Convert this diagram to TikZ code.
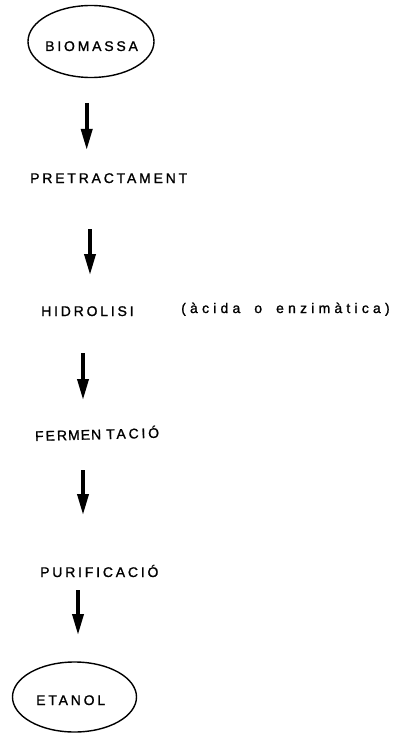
\documentclass[tikz,border=0pt]{standalone}
\usepackage{fontspec}
\setmainfont{Liberation Sans}
\newfontfamily\spaced[LetterSpace=20,FakeBold=1.2]{Liberation Sans}
\newfontfamily\spacedlow[LetterSpace=30,FakeBold=1.2]{Liberation Sans}
\usetikzlibrary{arrows.meta,shapes.geometric}
\begin{document}
\begin{tikzpicture}[x=1pt,y=-1pt,
  lbl/.style={inner sep=0pt,anchor=base west,font=\fontsize{14}{16}\spaced},
  sublbl/.style={inner sep=0pt,anchor=base west,font=\fontsize{14}{16}\spacedlow},
  endpt/.style={draw,ellipse,line width=1.4pt,inner sep=0pt},
  flow/.style={line width=3.6pt,-{Triangle[length=21pt,width=11pt]}}]
\useasboundingbox (0,0) rectangle (392,733);
\node[endpt,minimum width=126pt,minimum height=72pt] (bio) at (91,41.5) {};
\node[lbl] (biot) at (45,51) {BIOMASSA};
\node[lbl] (pre) at (30,183) {PRETRACTAMENT};
\node[lbl] (hid) at (41,316) {HIDROLISI};
\node[sublbl] (acid) at (181,313) {(àcida\hspace{14pt}o\hspace{14pt}enzimàtica)};
\node[lbl,rotate=1.5,anchor=base west] (fer) at (35,441) {F\hspace{2pt}E\hspace{2pt}R\hspace{1pt}M\hspace{1pt}E\hspace{1pt}N\hspace{5pt}TACIÓ};
\node[lbl] (pur) at (40,577) {PURIFICACIÓ};
\node[endpt,minimum width=124pt,minimum height=70pt] (eta) at (74.5,697) {};
\node[lbl] (etat) at (36,705) {ETANOL};
\coordinate (a1s) at (86.7,103); \coordinate (a1e) at (86.7,150);
\coordinate (a2s) at (90,229);   \coordinate (a2e) at (90,275);
\coordinate (a3s) at (83,353);   \coordinate (a3e) at (83,400);
\coordinate (a4s) at (83,470);   \coordinate (a4e) at (83,515);
\coordinate (a5s) at (78,590);   \coordinate (a5e) at (78,635);
\draw[flow] (a1s) -- (a1e);
\draw[flow] (a2s) -- (a2e);
\draw[flow] (a3s) -- (a3e);
\draw[flow] (a4s) -- (a4e);
\draw[flow] (a5s) -- (a5e);
\end{tikzpicture}
\end{document}
